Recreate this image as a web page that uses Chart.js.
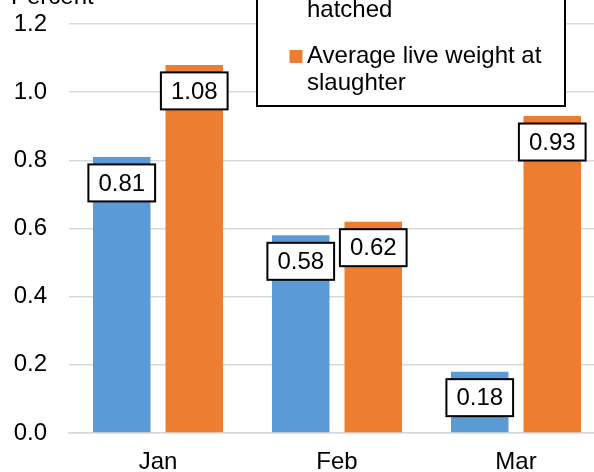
<!DOCTYPE html>
<html>
<head>
<meta charset="utf-8">
<script src="https://cdn.jsdelivr.net/npm/chart.js@4/dist/chart.umd.min.js"></script>
<style>
  html, body { margin: 0; padding: 0; width: 594px; height: 472px; overflow: hidden; background: #fff; }
  #wrap { position: absolute; left: 0; top: -40px; width: 620px; height: 530px; }
</style>
</head>
<body>
<div id="wrap"><canvas id="c" width="620" height="530"></canvas></div>
<script>
// Year-over-year change, first quarter
const months = ['Jan', 'Feb', 'Mar'];
const chicksHatched = [0.81, 0.58, 0.18];
const liveWeight = [1.08, 0.62, 0.93];
const seriesNames = ['Broiler-type chicks hatched', 'Average live weight at slaughter'];
const seriesColors = ['#5B9BD5', '#ED7D31'];
const unitLabel = 'Percent';

const FONT = '"Liberation Sans", Arial, sans-serif';

// Boxed value labels just inside the top of each bar
const valueBoxes = {
  id: 'valueBoxes',
  afterDatasetsDraw(chart) {
    const ctx = chart.ctx;
    ctx.save();
    ctx.font = '24px ' + FONT;
    ctx.textAlign = 'center';
    ctx.textBaseline = 'middle';
    chart.data.datasets.forEach((ds, i) => {
      chart.getDatasetMeta(i).data.forEach((bar, j) => {
        const txt = ds.data[j].toFixed(2);
        const w = ctx.measureText(txt).width + 20;
        const h = 37;
        const cx = bar.x;
        const cy = bar.y + 26;
        ctx.fillStyle = '#fff';
        ctx.fillRect(cx - w / 2, cy - h / 2, w, h);
        ctx.lineWidth = 2;
        ctx.strokeStyle = '#000';
        ctx.strokeRect(cx - w / 2, cy - h / 2, w, h);
        ctx.fillStyle = '#000';
        ctx.fillText(txt, cx, cy + 1);
      });
    });
    ctx.restore();
  }
};

function wrapText(ctx, text, maxW) {
  const words = text.split(' ');
  const lines = [];
  let cur = '';
  words.forEach(w => {
    const test = cur ? cur + ' ' + w : w;
    if (cur && ctx.measureText(test).width > maxW) {
      lines.push(cur);
      cur = w;
    } else {
      cur = test;
    }
  });
  if (cur) lines.push(cur);
  return lines;
}

// Framed legend over the upper plot area, plus the unit caption
const boxLegend = {
  id: 'boxLegend',
  afterDraw(chart) {
    const ctx = chart.ctx;
    ctx.save();
    ctx.font = '24px ' + FONT;
    ctx.textAlign = 'left';
    ctx.textBaseline = 'alphabetic';
    ctx.fillStyle = '#000';
    ctx.fillText(unitLabel, 11, 44);

    const left = 257, right = 565, top = 2, bottom = 146;
    ctx.fillStyle = '#fff';
    ctx.fillRect(left, top, right - left, bottom - top);
    ctx.lineWidth = 2;
    ctx.strokeStyle = '#000';
    ctx.strokeRect(left, top, right - left, bottom - top);

    let y = 30.3;
    const lineH = 27, gap = 19;
    seriesNames.forEach((name, i) => {
      const lines = wrapText(ctx, name, 245);
      ctx.fillStyle = seriesColors[i];
      ctx.fillRect(289.5, y - 13.3, 13, 13);
      ctx.fillStyle = '#000';
      lines.forEach((ln, k) => ctx.fillText(ln, 307, y + k * lineH));
      y += lines.length * lineH + gap;
    });
    ctx.restore();
  }
};

new Chart(document.getElementById('c'), {
  type: 'bar',
  data: {
    labels: months,
    datasets: [
      { label: seriesNames[0], data: chicksHatched, backgroundColor: seriesColors[0] },
      { label: seriesNames[1], data: liveWeight, backgroundColor: seriesColors[1] }
    ]
  },
  options: {
    responsive: false,
    animation: false,
    layout: { padding: { top: 64, right: 14.5, bottom: 0, left: 0 } },
    plugins: {
      legend: { display: false },
      tooltip: { enabled: false },
      title: { display: false }
    },
    datasets: { bar: { barPercentage: 0.793, categoryPercentage: 0.81 } },
    scales: {
      x: {
        grid: { display: false, drawTicks: false },
        border: { display: true, color: '#D9D9D9', width: 1.5 },
        ticks: { color: '#000', font: { family: FONT, size: 24 }, padding: 15 },
        afterFit(s) { s.height = 57; }
      },
      y: {
        min: 0,
        max: 1.2,
        ticks: {
          stepSize: 0.2,
          color: '#000',
          font: { family: FONT, size: 24 },
          padding: 21.5,
          callback: v => Number(v).toFixed(1)
        },
        grid: { color: '#D9D9D9', lineWidth: 1.5, drawTicks: false },
        border: { display: false },
        afterFit(s) { s.width = 68.5; }
      }
    }
  },
  plugins: [valueBoxes, boxLegend]
});
</script>
</body>
</html>
